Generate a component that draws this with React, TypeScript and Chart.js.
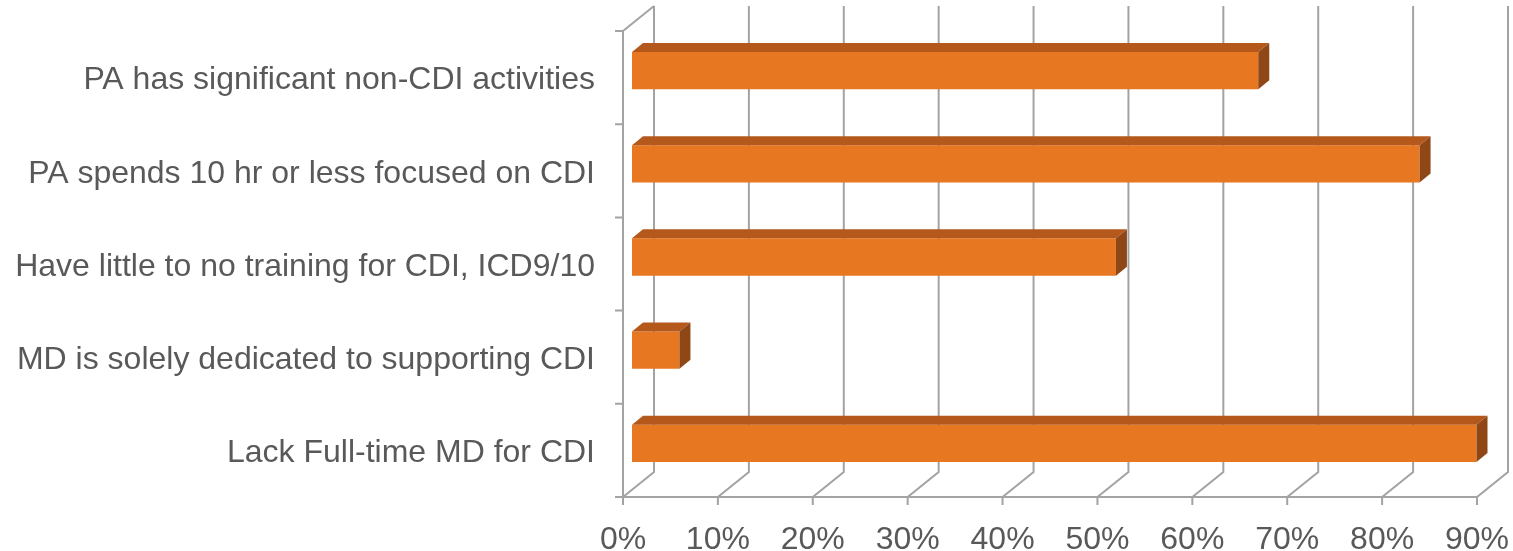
import React, { useEffect, useRef } from "react";
import { Chart, registerables } from "chart.js";

Chart.register(...registerables);

const categories = [
  "PA has significant non-CDI activities",
  "PA spends 10 hr or less focused on CDI",
  "Have little to no training for CDI, ICD9/10",
  "MD is solely dedicated to supporting CDI",
  "Lack Full-time MD for CDI",
];
const values = [66, 83, 51, 5, 89];
const xTicksMin = 0;
const xTicksMax = 90;
const xTickStep = 10;

const GRID = "#A3A3A3";
const TEXT = "#595959";
const FRONT = "#E87722";
const TOP = "#B5581B";
const SIDE = "#8E4715";
const DX = 31; // floor depth
const DY = 25;
const BAR_OFF_X = 9;
const BAR_OFF_Y = 7;
const BAR_D_X = 11;
const BAR_D_Y = 9;
const FONT = { family: "'Liberation Sans', Arial, sans-serif", size: 32 };

const threeD = {
  id: "threeD",
  beforeDatasetsDraw(chart: any) {
    const { ctx, chartArea, scales } = chart;
    const xs = scales.x;
    const { left, right, top, bottom } = chartArea;
    ctx.save();
    ctx.strokeStyle = GRID;
    ctx.lineWidth = 2;
    ctx.beginPath();
    for (let v = xTicksMin; v <= xTicksMax; v += xTickStep) {
      const xf = xs.getPixelForValue(v);
      ctx.moveTo(xf + DX, top - DY);
      ctx.lineTo(xf + DX, bottom - DY);
      ctx.lineTo(xf, bottom);
      ctx.moveTo(xf, bottom);
      ctx.lineTo(xf, bottom + 8);
    }
    ctx.moveTo(left - 8, bottom);
    ctx.lineTo(right, bottom);
    ctx.moveTo(left, top);
    ctx.lineTo(left, bottom);
    ctx.moveTo(left, top);
    ctx.lineTo(left + DX, top - DY);
    const n = categories.length;
    const band = (bottom - top) / n;
    for (let i = 0; i <= n; i++) {
      const y = top + band * i;
      ctx.moveTo(left - 8, y);
      ctx.lineTo(left, y);
    }
    ctx.stroke();
    ctx.restore();
    ctx.save();
    ctx.translate(BAR_OFF_X, -BAR_OFF_Y);
  },
  afterDatasetsDraw(chart: any) {
    const { ctx } = chart;
    ctx.restore();
    const meta = chart.getDatasetMeta(0);
    ctx.save();
    meta.data.forEach((bar: any) => {
      const p = bar.getProps(["x", "y", "base", "height"], true);
      const x0 = p.base + BAR_OFF_X;
      const x1 = p.x + BAR_OFF_X;
      const yt = p.y - p.height / 2 - BAR_OFF_Y;
      const yb = p.y + p.height / 2 - BAR_OFF_Y;
      ctx.fillStyle = TOP;
      ctx.beginPath();
      ctx.moveTo(x0, yt);
      ctx.lineTo(x1, yt);
      ctx.lineTo(x1 + BAR_D_X, yt - BAR_D_Y);
      ctx.lineTo(x0 + BAR_D_X, yt - BAR_D_Y);
      ctx.closePath();
      ctx.fill();
      ctx.fillStyle = SIDE;
      ctx.beginPath();
      ctx.moveTo(x1, yt);
      ctx.lineTo(x1 + BAR_D_X, yt - BAR_D_Y);
      ctx.lineTo(x1 + BAR_D_X, yb - BAR_D_Y);
      ctx.lineTo(x1, yb);
      ctx.closePath();
      ctx.fill();
    });
    ctx.restore();
  },
};

export default function App() {
  const ref = useRef<HTMLCanvasElement | null>(null);
  useEffect(() => {
    document.body.style.margin = "0";
    if (!ref.current) return;
    const chart = new Chart(ref.current, {
      type: "bar",
      data: {
        labels: categories,
        datasets: [
          {
            data: values,
            backgroundColor: FRONT,
            borderWidth: 0,
            categoryPercentage: 1,
            barPercentage: 0.4,
          },
        ],
      },
      options: {
        indexAxis: "y",
        responsive: false,
        animation: false,
        layout: { padding: { top: 31, right: 36, left: 0, bottom: 0 } },
        plugins: { legend: { display: false }, tooltip: { enabled: false } },
        scales: {
          x: {
            min: xTicksMin,
            max: xTicksMax,
            grid: { display: false },
            border: { display: false },
            ticks: {
              stepSize: xTickStep,
              padding: 16,
              color: TEXT,
              font: FONT,
              callback: (v: any) => v + "%",
            },
            afterFit: (s: any) => {
              s.height = 54;
              s.paddingLeft = 0;
              s.paddingRight = 0;
            },
          },
          y: {
            grid: { display: false },
            border: { display: false },
            ticks: {
              padding: 20,
              labelOffset: 3,
              color: TEXT,
              font: FONT,
            },
            afterFit: (s: any) => {
              s.width = 623;
              s.paddingTop = 0;
              s.paddingBottom = 0;
            },
          },
        },
      },
      plugins: [threeD],
    });
    return () => chart.destroy();
  }, []);
  return (
    <div style={{ width: 1513, height: 551 }}>
      <canvas ref={ref} width={1513} height={551} />
    </div>
  );
}
